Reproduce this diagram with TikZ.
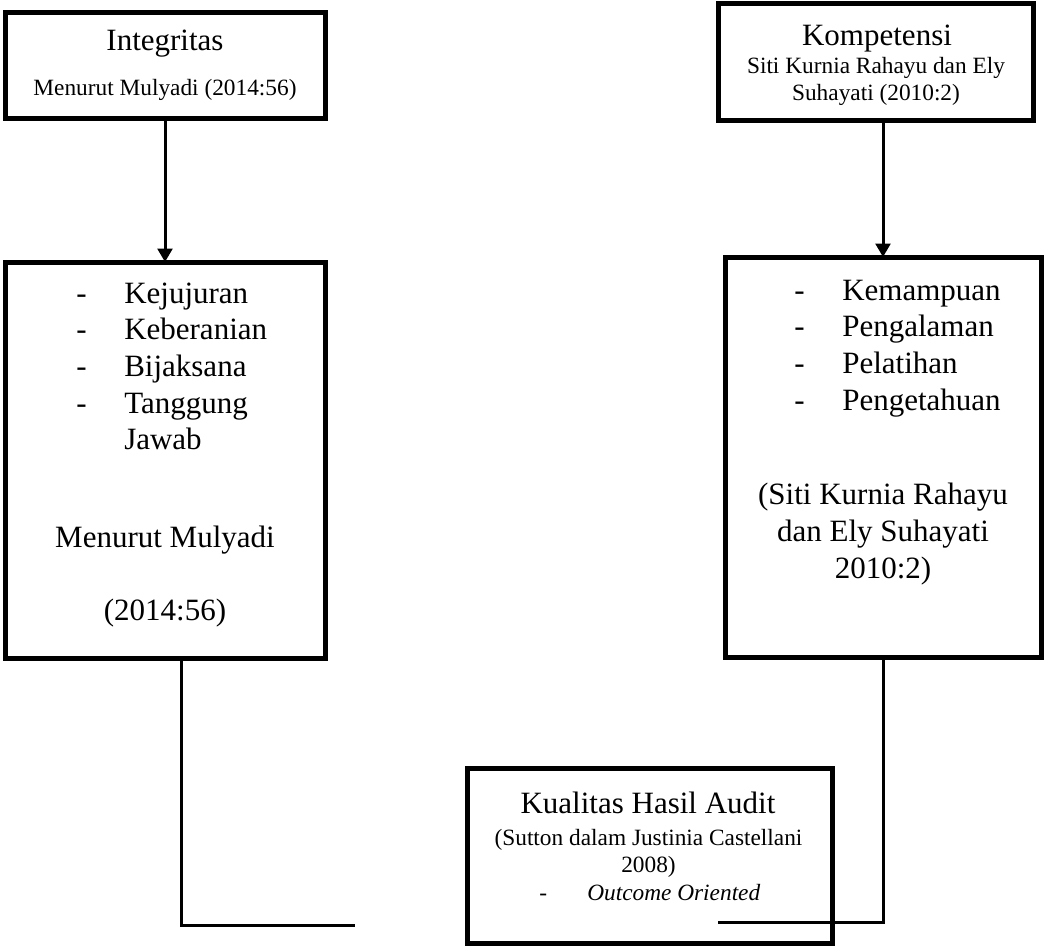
\documentclass[tikz,border=0pt]{standalone}
\usepackage{fontspec}
\setmainfont{Liberation Serif}
\usetikzlibrary{arrows.meta, positioning, calc}
\tikzset{
    frame/.style={draw, line width=3.75pt, inner sep=0pt, outer sep=0pt},
    link/.style={line width=2.25pt},
    bigtxt/.style={font=\fontsize{23.25pt}{27.5pt}\selectfont, inner sep=0pt},
    smalltxt/.style={font=\fontsize{17.5pt}{20.25pt}\selectfont, inner sep=0pt},
}
\begin{document}
\begin{tikzpicture}[x=0.75pt, y=-0.75pt, >={Triangle[length=10pt, width=11pt]}]
    \useasboundingbox (0,0) rectangle (1045,951);

    % boxes
    \node[frame, minimum width=240pt, minimum height=79.5pt]      (intbox)  at (165,65)      {};
    \node[frame, minimum width=240pt, minimum height=297pt]       (intlist) at (165,460)     {};
    \node[frame, minimum width=236.25pt, minimum height=87.75pt]  (kombox)  at (875.5,61.5)  {};
    \node[frame, minimum width=237pt, minimum height=300pt]       (komlist) at (883,457)     {};
    \node[frame, minimum width=273.75pt, minimum height=131.25pt] (kualbox) at (649.5,855.5) {};

    % integritas (multi-line nodes sit on their last baseline)
    \node[bigtxt, anchor=base]   (inttitle) at (165,50) {Integritas};
    \node[smalltxt, anchor=base] (intsrc)   at (165,95) {Menurut Mulyadi (2014:56)};
    \node[bigtxt, anchor=base west] (intitems) at (76,303) {\begin{tabular}[t]{@{}p{36pt}@{}l@{}}
        - & Kejujuran\\ - & Keberanian\\ - & Bijaksana\\ - & Tanggung\\ & Jawab\end{tabular}};
    \node[bigtxt, anchor=base, align=center] (intref) at (165,620) {Menurut Mulyadi\\[27pt](2014:56)};

    % kompetensi
    \node[bigtxt, anchor=base]   (komtitle) at (877,45) {Kompetensi};
    \node[smalltxt, anchor=base, align=center] (komsrc) at (876,100) {Siti Kurnia Rahayu dan Ely\\Suhayati (2010:2)};
    \node[bigtxt, anchor=base west] (komitems) at (794,300) {\begin{tabular}[t]{@{}p{36pt}@{}l@{}}
        - & Kemampuan\\ - & Pengalaman\\ - & Pelatihan\\ - & Pengetahuan\end{tabular}};
    \node[bigtxt, anchor=base, align=center] (komref) at (883,578) {(Siti Kurnia Rahayu\\dan Ely Suhayati\\2010:2)};

    % kualitas hasil audit
    \node[bigtxt, anchor=base]   (kualtitle) at (648,813) {Kualitas Hasil Audit};
    \node[smalltxt, anchor=base, align=center] (kualsrc) at (648.5,872) {(Sutton dalam Justinia Castellani\\2008)};
    \node[smalltxt, anchor=base west] (kualitem) at (539,900) {\begin{tabular}[t]{@{}p{36pt}@{}l@{}}
        - & \textit{Outcome Oriented}\end{tabular}};

    % connectors
    \draw[link, ->] (intbox) -- (intlist);
    \draw[link, ->] (kombox.south -| komlist.north) -- (komlist);
    \coordinate (leftend)  at (355,925);
    \coordinate (rightend) at (718,922);
    \draw[link] ([xshift=12pt]intlist.south) |- (leftend);
    \draw[link] (komlist.south) |- (rightend);
\end{tikzpicture}
\end{document}
